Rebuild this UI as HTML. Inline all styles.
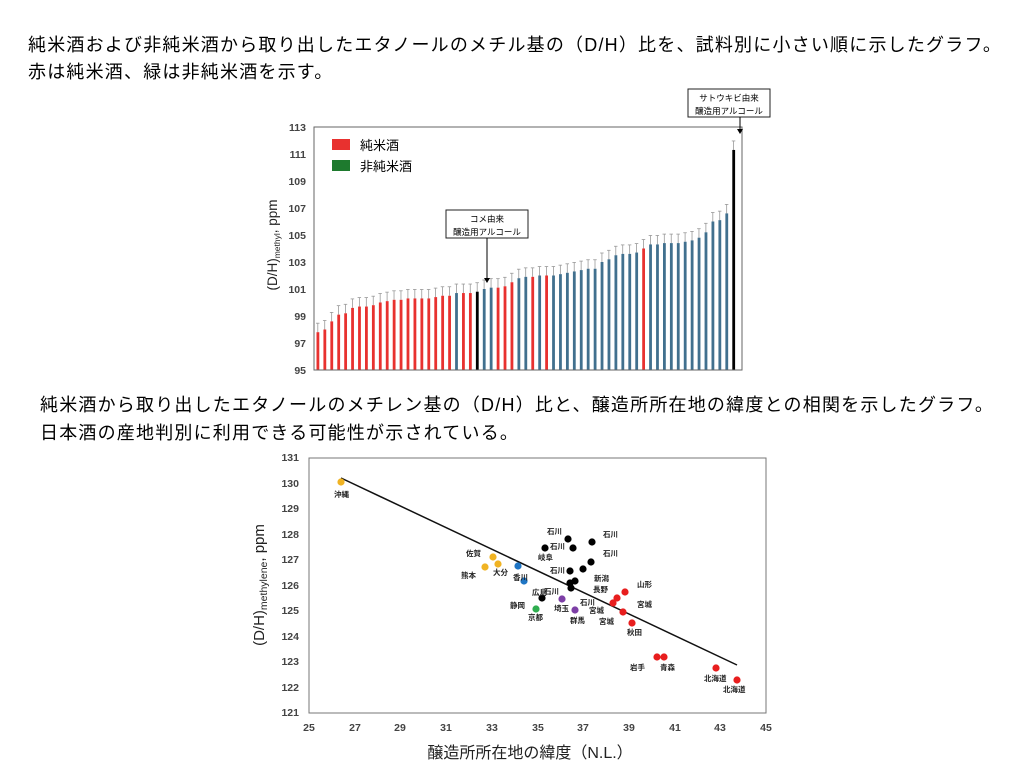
<!DOCTYPE html>
<html><head><meta charset="utf-8"><style>
body{margin:0;background:#fff;width:1024px;height:768px;overflow:hidden;font-family:"Liberation Sans","Noto Sans CJK JP",sans-serif}
.t{position:absolute;font-size:18px;letter-spacing:1.2px;color:#000;white-space:nowrap}
svg{position:absolute;left:0;top:0}
svg text{font-family:"Liberation Sans","Noto Sans CJK JP",sans-serif}
</style></head><body>
<div class="t" style="left:28px;top:31px">純米酒および非純米酒から取り出したエタノールのメチル基の（D/H）比を、試料別に小さい順に示したグラフ。</div>
<div class="t" style="left:28px;top:58px">赤は純米酒、緑は非純米酒を示す。</div>
<div class="t" style="left:40px;top:391px">純米酒から取り出したエタノールのメチレン基の（D/H）比と、醸造所所在地の緯度との相関を示したグラフ。</div>
<div class="t" style="left:40px;top:419px">日本酒の産地判別に利用できる可能性が示されている。</div>
<svg width="1024" height="768" id="s">
<g id="bars"></g>
<rect x="314" y="127" width="428" height="243" fill="none" stroke="#666" stroke-width="1"/>
<g font-size="10.5" font-weight="bold" fill="#444" text-anchor="end">
<text x="306" y="131">113</text><text x="306" y="158">111</text><text x="306" y="185">109</text><text x="306" y="212">107</text><text x="306" y="239">105</text><text x="306" y="266">103</text><text x="306" y="293">101</text><text x="306" y="320">99</text><text x="306" y="347">97</text><text x="306" y="374">95</text>
</g>
<text transform="translate(277,245) rotate(-90)" font-size="13.5" text-anchor="middle" fill="#222">(D/H)<tspan font-size="8.5" dy="3">methyl</tspan><tspan dy="-3">, ppm</tspan></text>
<rect x="332" y="139" width="18" height="11" fill="#e8312f"/><text x="360" y="150" font-size="13">純米酒</text>
<rect x="332" y="160" width="18" height="11" fill="#1e7a2e"/><text x="360" y="171" font-size="13">非純米酒</text>
<rect x="446" y="210" width="82" height="28" fill="#fff" stroke="#222"/>
<text x="487" y="222" font-size="8.5" text-anchor="middle">コメ由来</text><text x="487" y="235" font-size="8.5" text-anchor="middle">醸造用アルコール</text>
<line x1="487" y1="238" x2="487" y2="278" stroke="#000"/><path d="M484,278 L490,278 L487,283Z"/>
<rect x="688" y="89" width="82" height="28" fill="#fff" stroke="#222"/>
<text x="729" y="101" font-size="8.5" text-anchor="middle">サトウキビ由来</text><text x="729" y="114" font-size="8.5" text-anchor="middle">醸造用アルコール</text>
<line x1="740" y1="117" x2="740" y2="129" stroke="#000"/><path d="M737,129 L743,129 L740,134Z"/>

<rect x="309" y="458" width="457" height="255" fill="none" stroke="#777"/>
<g font-size="10.5" font-weight="bold" fill="#444" text-anchor="end">
<text x="299" y="461">131</text><text x="299" y="487">130</text><text x="299" y="512">129</text><text x="299" y="538">128</text><text x="299" y="563">127</text><text x="299" y="589">126</text><text x="299" y="614">125</text><text x="299" y="640">124</text><text x="299" y="665">123</text><text x="299" y="691">122</text><text x="299" y="716">121</text>
</g>
<g font-size="10.5" font-weight="bold" fill="#444" text-anchor="middle">
<text x="309" y="731">25</text><text x="355" y="731">27</text><text x="400" y="731">29</text><text x="446" y="731">31</text><text x="492" y="731">33</text><text x="538" y="731">35</text><text x="583" y="731">37</text><text x="629" y="731">39</text><text x="675" y="731">41</text><text x="720" y="731">43</text><text x="766" y="731">45</text>
</g>
<text x="530" y="758" font-size="16" text-anchor="middle" fill="#222">醸造所所在地の緯度（N.L.）</text>
<text transform="translate(264,585) rotate(-90)" font-size="15" text-anchor="middle" fill="#222">(D/H)<tspan font-size="10.5" dy="3">methylene</tspan><tspan dy="-3">, ppm</tspan></text>
<line x1="341" y1="478" x2="737" y2="665" stroke="#111" stroke-width="1.5"/>
<g id="pts"></g>
<g font-size="7.5" font-weight="bold" fill="#222">
<text x="334" y="497">沖縄</text>
<text x="547" y="534">石川</text><text x="603" y="537">石川</text><text x="550" y="549">石川</text><text x="538" y="560">岐阜</text>
<text x="603" y="556">石川</text><text x="550" y="573">石川</text><text x="594" y="581">新潟</text><text x="593" y="592">長野</text>
<text x="544" y="594">石川</text><text x="580" y="605">石川</text><text x="532" y="595">広島</text><text x="510" y="608">静岡</text>
<text x="554" y="611">埼玉</text><text x="528" y="620">京都</text><text x="570" y="623">群馬</text>
<text x="466" y="556">佐賀</text><text x="493" y="575">大分</text><text x="461" y="578">熊本</text><text x="513" y="580">香川</text>
<text x="637" y="587">山形</text><text x="637" y="607">宮城</text><text x="589" y="613">宮城</text><text x="599" y="624">宮城</text><text x="627" y="635">秋田</text>
<text x="630" y="670">岩手</text><text x="660" y="670">青森</text><text x="704" y="681">北海道</text><text x="723" y="692">北海道</text>
</g>
</svg>
<script>
var v=[97.8,98,98.6,99.1,99.2,99.6,99.7,99.7,99.8,100,100.1,100.2,100.2,100.3,100.3,100.3,100.3,100.4,100.5,100.5,100.7,100.7,100.7,100.8,101,101.1,101.1,101.2,101.5,101.8,101.9,101.9,102,102,102,102.1,102.2,102.3,102.4,102.5,102.5,103,103.2,103.5,103.6,103.6,103.7,104,104.3,104.3,104.4,104.4,104.4,104.5,104.6,104.8,105.2,106,106.1,106.6,111.3];
var c={};[0,1,2,3,4,5,6,7,8,9,10,11,12,13,14,15,16,17,18,19,21,22,26,27,28,31,33,47].forEach(function(i){c[i]='#e8312f'});
c[20]='#41708e';c[23]='#000';c[60]='#000';
var g='';for(var k=0;k<61;k++){var x=316.5+k*6.93,y=370-(v[k]-95)*13.5,col=c[k]||'#41708e',e=9;
g+='<line x1="'+(x+1.3)+'" y1="'+y+'" x2="'+(x+1.3)+'" y2="'+(y-e)+'" stroke="#999" stroke-width="0.8"/><line x1="'+(x-0.5)+'" y1="'+(y-e)+'" x2="'+(x+3)+'" y2="'+(y-e)+'" stroke="#999" stroke-width="0.8"/><rect x="'+x+'" y="'+y+'" width="2.8" height="'+(370-y)+'" fill="'+col+'"/>';}
document.getElementById('bars').innerHTML=g;
var p=[[341,482,'#f0b323'],[568,539,'#000'],[592,542,'#000'],[573,548,'#000'],[545,548,'#000'],[591,562,'#000'],[570,571,'#000'],[583,569,'#000'],[570,583,'#000'],[575,581,'#000'],[571,588,'#000'],[542,598,'#000'],[493,557,'#f0b323'],[498,564,'#f0b323'],[485,567,'#f0b323'],[518,566,'#1f75c4'],[524,581,'#1f75c4'],[562,599,'#7d3fa6'],[575,610,'#7d3fa6'],[536,609,'#2fad4f'],[625,592,'#e81e1e'],[617,598,'#e81e1e'],[613,603,'#e81e1e'],[623,612,'#e81e1e'],[632,623,'#e81e1e'],[657,657,'#e81e1e'],[664,657,'#e81e1e'],[716,668,'#e81e1e'],[737,680,'#e81e1e']];
var h='';p.forEach(function(q){h+='<circle cx="'+q[0]+'" cy="'+q[1]+'" r="3.6" fill="'+q[2]+'"/>'});
document.getElementById('pts').innerHTML=h;
</script>
</body></html>
